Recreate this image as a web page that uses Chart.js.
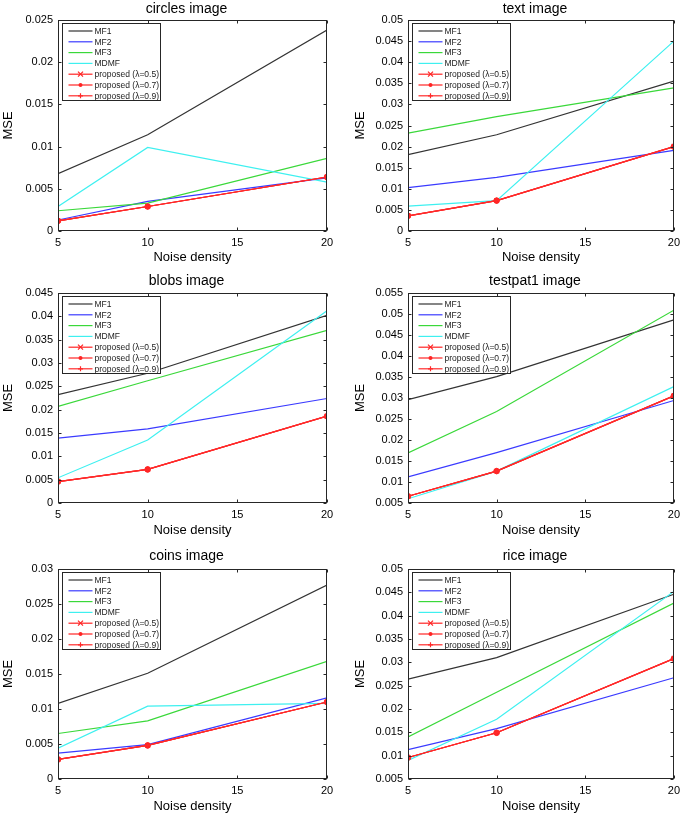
<!DOCTYPE html>
<html>
<head>
<meta charset="utf-8">
<script src="https://cdn.jsdelivr.net/npm/chart.js@4.4.1/dist/chart.umd.min.js"></script>
<style>
  body { margin: 0; background: #fff; }
  #page { position: relative; width: 685px; height: 814px; }
  canvas { position: absolute; }
</style>
</head>
<body>
<div id="page">
  <canvas id="c0" width="340" height="270" style="left:0px;top:0px"></canvas>
  <canvas id="c1" width="345" height="270" style="left:340px;top:0px"></canvas>
  <canvas id="c2" width="340" height="275" style="left:0px;top:270px"></canvas>
  <canvas id="c3" width="345" height="275" style="left:340px;top:270px"></canvas>
  <canvas id="c4" width="340" height="269" style="left:0px;top:545px"></canvas>
  <canvas id="c5" width="345" height="269" style="left:340px;top:545px"></canvas>
</div>
<script>
// noise density levels (x) and tick labels
const noiseDensity = [5, 10, 20];
const xTicks = [5, 10, 15, 20];

const seriesNames = ['MF1', 'MF2', 'MF3', 'MDMF',
  'proposed (\u03bb=0.5)', 'proposed (\u03bb=0.7)', 'proposed (\u03bb=0.9)'];

const panelTitles = ['circles image', 'text image', 'blobs image',
  'testpat1 image', 'coins image', 'rice image'];

// MSE per series (rows follow seriesNames), columns follow noiseDensity
const circlesMSE = [
  [0.0068, 0.0114, 0.0238],
  [0.0013, 0.0035, 0.0063],
  [0.0024, 0.0033, 0.0086],
  [0.0029, 0.0099, 0.0058],
  [0.0012, 0.0029, 0.0064],
  [0.0012, 0.0029, 0.0064],
  [0.0012, 0.0029, 0.0064]
];
const textMSE = [
  [0.0181, 0.0228, 0.0355],
  [0.0103, 0.0127, 0.0191],
  [0.0232, 0.0271, 0.0339],
  [0.0059, 0.0072, 0.0450],
  [0.0036, 0.0072, 0.0200],
  [0.0036, 0.0072, 0.0200],
  [0.0036, 0.0072, 0.0200]
];
const blobsMSE = [
  [0.0232, 0.0278, 0.0402],
  [0.0139, 0.0159, 0.0224],
  [0.0207, 0.0262, 0.0370],
  [0.0054, 0.0135, 0.0412],
  [0.0046, 0.0072, 0.0186],
  [0.0046, 0.0072, 0.0186],
  [0.0046, 0.0072, 0.0186]
];
const testpat1MSE = [
  [0.0296, 0.0351, 0.0486],
  [0.0112, 0.0170, 0.0294],
  [0.0169, 0.0268, 0.0509],
  [0.0060, 0.0126, 0.0327],
  [0.0066, 0.0126, 0.0305],
  [0.0066, 0.0126, 0.0305],
  [0.0066, 0.0126, 0.0305]
];
const coinsMSE = [
  [0.0108, 0.0151, 0.0277],
  [0.0037, 0.0049, 0.0116],
  [0.0065, 0.0083, 0.0168],
  [0.0044, 0.0104, 0.0108],
  [0.0028, 0.0048, 0.0110],
  [0.0028, 0.0048, 0.0110],
  [0.0028, 0.0048, 0.0110]
];
const riceMSE = [
  [0.0264, 0.0310, 0.0446],
  [0.0113, 0.0158, 0.0267],
  [0.0140, 0.0236, 0.0427],
  [0.0090, 0.0178, 0.0452],
  [0.0096, 0.0149, 0.0308],
  [0.0096, 0.0149, 0.0308],
  [0.0096, 0.0149, 0.0308]
];

// y axis limits per panel
const yLimits = [[0, 0.025], [0, 0.05], [0, 0.045], [0.005, 0.055], [0, 0.03], [0.005, 0.05]];
const yStep = 0.005;

const seriesColors = ['#333333', '#3a3aff', '#3ad83a', '#3ef0f0', '#ff2424', '#ff2424', '#ff2a2a'];
const markerStyles = [null, null, null, null, 'crossRot', 'circle', 'cross'];

Chart.defaults.font.family = "'Liberation Sans', Arial, sans-serif";
Chart.defaults.color = '#000';

const colLayout = [
  { yAxisW: 58, padRight: 13, msePad: 0.2 },
  { yAxisW: 68, padRight: 9, msePad: 12.2 }
];
const rowLayout = [
  { top: 20, xAxisH: 39, titleY: 9, xTitlePad: 5.2 },
  { top: 23, xAxisH: 42, titleY: 11, xTitlePad: 7.2 },
  { top: 24, xAxisH: 35, titleY: 11, xTitlePad: 0.2 }
];

function drawMarker(ctx, style, x, y, r) {
  ctx.beginPath();
  if (style === 'circle') {
    ctx.arc(x, y, r, 0, Math.PI * 2);
    ctx.fill();
    return;
  }
  if (style === 'crossRot') {
    ctx.moveTo(x - r, y - r); ctx.lineTo(x + r, y + r);
    ctx.moveTo(x - r, y + r); ctx.lineTo(x + r, y - r);
  } else if (style === 'cross') {
    ctx.moveTo(x - r, y); ctx.lineTo(x + r, y);
    ctx.moveTo(x, y - r); ctx.lineTo(x, y + r);
  }
  ctx.stroke();
}

// matlab style box, inward ticks, title and legend
const decorPlugin = {
  id: 'decor',
  afterDatasetsDraw(chart, args, opts) {
    const { ctx, chartArea: a, scales: { x, y } } = chart;
    const L = Math.round(a.left) + 0.5, R = Math.round(a.right) - 0.5;
    const T = Math.round(a.top) + 0.5, B = Math.round(a.bottom) - 0.5;
    ctx.save();
    ctx.strokeStyle = '#262626';
    ctx.lineWidth = 1;
    ctx.strokeRect(L, T, R - L, B - T);
    ctx.beginPath();
    y.ticks.forEach(t => {
      const py = Math.round(y.getPixelForValue(t.value)) + 0.5;
      ctx.moveTo(L, py); ctx.lineTo(L + 3, py);
      ctx.moveTo(R, py); ctx.lineTo(R - 3, py);
    });
    x.ticks.forEach(t => {
      const px = Math.round(x.getPixelForValue(t.value)) + 0.5;
      ctx.moveTo(px, B); ctx.lineTo(px, B - 3);
      ctx.moveTo(px, T); ctx.lineTo(px, T + 3);
    });
    ctx.stroke();

    // title
    ctx.fillStyle = '#000';
    ctx.font = "14px 'Liberation Sans', Arial, sans-serif";
    ctx.textAlign = 'center';
    ctx.textBaseline = 'middle';
    ctx.fillText(opts.text, (a.left + a.right) / 2 - 6, opts.titleY);

    // legend
    const bx = Math.round(a.left) + 4.5, by = Math.round(a.top) + 3.5, bw = 98, bh = 77;
    ctx.fillStyle = '#fff';
    ctx.fillRect(bx, by, bw, bh);
    ctx.strokeStyle = '#262626';
    ctx.strokeRect(bx, by, bw, bh);
    ctx.font = "8.5px 'Liberation Sans', Arial, sans-serif";
    ctx.textAlign = 'left';
    chart.data.datasets.forEach((ds, i) => {
      const ry = by + 7.5 + i * 10.8;
      ctx.strokeStyle = ds.borderColor;
      ctx.fillStyle = ds.borderColor;
      ctx.lineWidth = 1.2;
      ctx.beginPath();
      ctx.moveTo(bx + 6, ry); ctx.lineTo(bx + 30, ry);
      ctx.stroke();
      if (markerStyles[i]) drawMarker(ctx, markerStyles[i], bx + 18, ry, markerStyles[i] === 'circle' ? 2 : 2.5);
      ctx.fillStyle = '#222';
      ctx.fillText(ds.label, bx + 32, ry + 0.5);
    });
    ctx.restore();
  }
};

const panelData = [circlesMSE, textMSE, blobsMSE, testpat1MSE, coinsMSE, riceMSE];

panelData.forEach((mse, p) => {
  const col = colLayout[p % 2], row = rowLayout[Math.floor(p / 2)];
  const ctx = document.getElementById('c' + p).getContext('2d');
  const datasets = seriesNames.map((name, i) => ({
    label: name,
    data: noiseDensity.map((nd, j) => ({ x: nd, y: mse[i][j] })),
    borderColor: seriesColors[i],
    backgroundColor: seriesColors[i],
    borderWidth: 1.2,
    pointStyle: markerStyles[i] || 'circle',
    pointRadius: markerStyles[i] ? (markerStyles[i] === 'circle' ? 2.8 : 3) : 0,
    pointBorderWidth: 1,
    pointBackgroundColor: seriesColors[i],
    pointBorderColor: seriesColors[i],
    tension: 0,
    fill: false,
    order: seriesNames.length - i
  }));

  new Chart(ctx, {
    type: 'line',
    data: { datasets },
    plugins: [decorPlugin],
    options: {
      responsive: false,
      animation: false,
      events: [],
      layout: { padding: { top: row.top, right: col.padRight, left: 0, bottom: 0 } },
      plugins: {
        legend: { display: false },
        tooltip: { enabled: false },
        decor: { text: panelTitles[p], titleY: row.titleY }
      },
      scales: {
        x: {
          type: 'linear',
          min: xTicks[0],
          max: xTicks[xTicks.length - 1],
          afterBuildTicks: s => { s.ticks = xTicks.map(v => ({ value: v })); },
          afterFit: s => { s.height = row.xAxisH; },
          grid: { display: false, drawTicks: false },
          border: { display: false },
          ticks: { padding: 5, maxRotation: 0, font: { size: 11 }, color: '#000' },
          title: { display: true, text: 'Noise density', font: { size: 13 }, color: '#000', padding: { top: 0, bottom: row.xTitlePad } }
        },
        y: {
          type: 'linear',
          min: yLimits[p][0],
          max: yLimits[p][1],
          afterFit: s => { s.width = col.yAxisW; },
          grid: { display: false, drawTicks: false },
          border: { display: false },
          ticks: { stepSize: yStep, padding: 5, font: { size: 11 }, color: '#000',
                   callback: v => String(+v.toFixed(4)) },
          title: { display: true, text: 'MSE', font: { size: 13 }, color: '#000', padding: { top: col.msePad, bottom: 0 } }
        }
      }
    }
  });
});
</script>
</body>
</html>
